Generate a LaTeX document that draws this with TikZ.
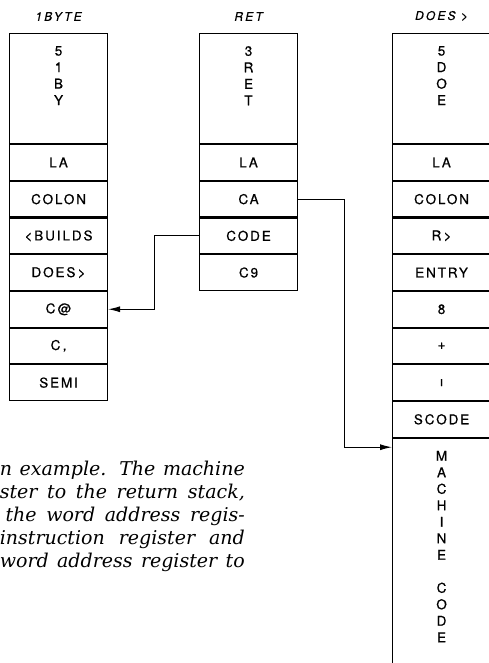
\documentclass[tikz,border=0pt]{standalone}
\usepackage{fontspec}
\usepackage{tikz}
\usetikzlibrary{positioning, arrows.meta, calc}
\newfontfamily\cellfont[LetterSpace=14, FakeBold=0.6]{TeX Gyre Heros}
\newfontfamily\namefont[LetterSpace=18, FakeBold=0.4]{TeX Gyre Heros}
\newfontfamily\notefont{DejaVu Serif}
\newcommand{\capline}[1]{\makebox[245pt][s]{#1}}

\begin{document}
\begin{tikzpicture}[x=1pt, y=-1pt,
    cell/.style={draw, line width=1.1pt, minimum width=98pt, minimum height=35.6pt, inner sep=0pt, font=\cellfont\fontsize{13.5}{15}\selectfont},
    head/.style={cell, minimum height=110pt},
    letters/.style={align=center, inner sep=0pt, font=\cellfont\fontsize{13.5}{16.5}\selectfont},
    title/.style={inner sep=0pt, font=\namefont\itshape\fontsize{12}{14}\selectfont},
    link/.style={line width=1pt, -{Latex[length=12pt, width=6pt]}},
    caption/.style={anchor=base east, inner sep=0pt, font=\notefont\itshape\fontsize{19}{23}\selectfont}]
  \useasboundingbox (0,0) rectangle (488,663);

  % 1BYTE
  \node[head, anchor=north west] (byte) at (9,33) {};
  \node[title, above=12pt of byte.north] (byteTitle) {1BYTE};
  \node[letters, below=13pt of byte.north] (byteName) {5\\1\\B\\Y};
  \node[cell, below=0pt of byte] (byteLA) {LA};
  \node[cell, below=0pt of byteLA] (byteColon) {COLON};
  \node[cell, below=0pt of byteColon] (byteBuilds) {<BUILDS};
  \node[cell, below=0pt of byteBuilds] (byteDoes) {DOES\,>};
  \node[cell, below=0pt of byteDoes] (byteFetch) {C\,@};
  \node[cell, below=0pt of byteFetch] (byteComma) {C\,,};
  \node[cell, below=0pt of byteComma] (byteSemi) {SEMI};

  % RET
  \node[head, anchor=north west] (ret) at (199,33) {};
  \node[title, above=12pt of ret.north] (retTitle) {RET};
  \node[letters, below=13pt of ret.north] (retName) {3\\R\\E\\T};
  \node[cell, below=0pt of ret] (retLA) {LA};
  \node[cell, below=0pt of retLA] (retCA) {CA};
  \node[cell, below=0pt of retCA] (retCode) {CODE};
  \node[cell, below=0pt of retCode] (retCnine) {C9};

  % DOES>
  \node[head, anchor=north west] (does) at (392,33) {};
  \node[title, above=12pt of does.north] (doesTitle) {DOES >};
  \node[letters, below=13pt of does.north] (doesName) {5\\D\\O\\E};
  \node[cell, below=0pt of does] (doesLA) {LA};
  \node[cell, below=0pt of doesLA] (doesColon) {COLON};
  \node[cell, below=0pt of doesColon] (doesFrom) {R\,>};
  \node[cell, below=0pt of doesFrom] (doesEntry) {ENTRY};
  \node[cell, below=0pt of doesEntry] (doesEight) {8};
  \node[cell, below=0pt of doesEight] (doesPlus) {+};
  \node[cell, below=0pt of doesPlus] (doesStore) {ı};
  \node[cell, below=0pt of doesStore] (doesScode) {SCODE};
  \node[cell, minimum height=260pt, below=0pt of doesScode] (doesMachine) {};
  \node[letters, below=13pt of doesMachine.north] (machineName) {M\\A\\C\\H\\I\\N\\E\\[16.5pt]C\\O\\D\\E};

  % pointers
  \coordinate (machineEntry) at ([yshift=-9.5pt]doesMachine.north west);
  \draw[link] (retCode.west) -- ++(-45,0) |- (byteFetch.east);
  \draw[link] (retCA.east) -- ++(46,0) |- (machineEntry);

  % caption
  \node[caption] (capA) at (245,475) {\capline{n example. The machine}};
  \node[caption] (capB) at (245,498) {\capline{ster to the return stack,}};
  \node[caption] (capC) at (245,521) {\capline{\hspace{0.3em}the word address regis-}};
  \node[caption] (capD) at (245,544) {\capline{instruction register and}};
  \node[caption] (capE) at (245,567) {\capline{word address register to}};
\end{tikzpicture}
\end{document}
